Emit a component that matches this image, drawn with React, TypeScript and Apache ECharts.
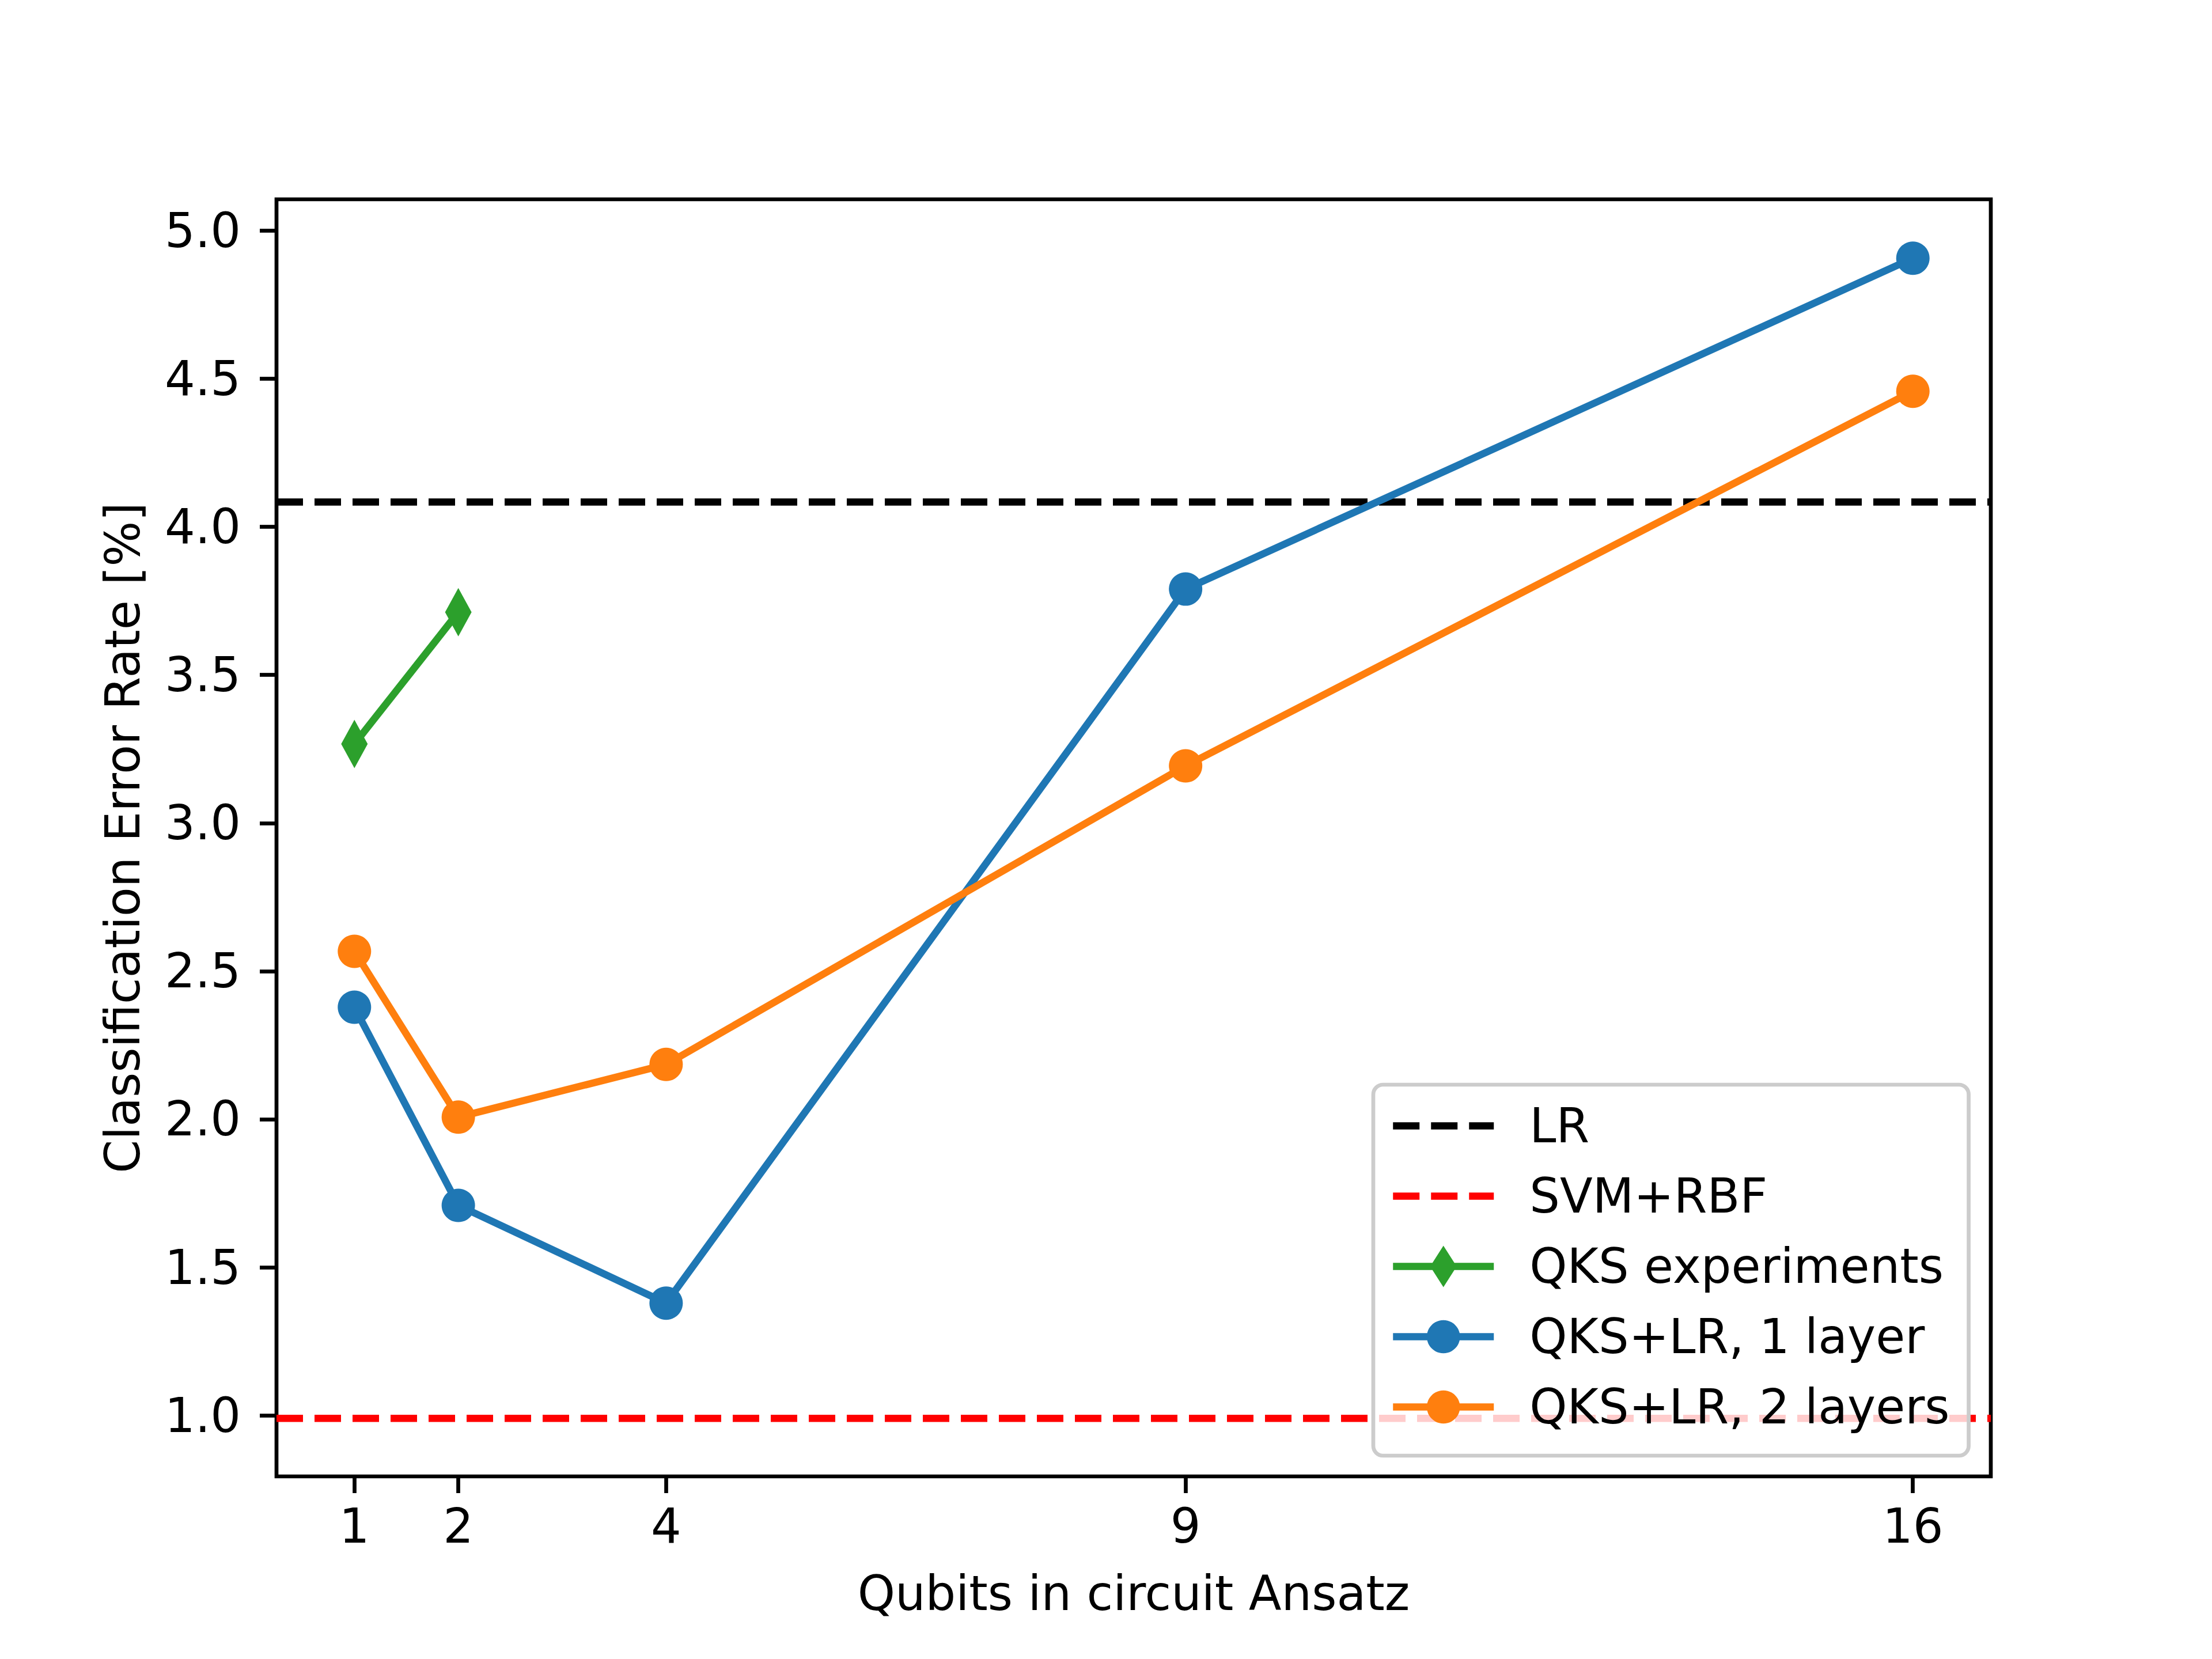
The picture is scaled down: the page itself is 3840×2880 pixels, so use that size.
import React, { useEffect, useRef } from "react";
import * as echarts from "echarts";

const qubits = [1, 2, 4, 9, 16];
const qubitsExp = [1, 2];
const errOneLayer = [2.378, 1.709, 1.379, 3.79, 4.907];
const errTwoLayers = [2.567, 2.007, 2.185, 3.193, 4.458];
const errExperiments = [3.267, 3.712];
const lrError = 4.084;
const svmError = 0.99;
const xTicks = [1, 2, 4, 9, 16];
const yTicks = [1.0, 1.5, 2.0, 2.5, 3.0, 3.5, 4.0, 4.5, 5.0];
const xMin = 0.25;
const xMax = 16.75;
const yMin = 0.794;
const yMax = 5.106;

const FONT = "DejaVu Sans";
const FS = 83;
const LW = 12.5;

const DIAMOND_ICON =
  "path://M0,29.75L175,29.75L175,42.25L0,42.25Z M64.5,36L87.5,0L110.5,36L87.5,72Z";

export default function App() {
  const ref = useRef<HTMLDivElement>(null);
  useEffect(() => {
    document.body.style.margin = "0";
    const chart = echarts.init(ref.current!, null, { renderer: "svg" });
    const pairs = (xs: number[], ys: number[]) => xs.map((x, i) => [x, ys[i]]);
    const option: any = {
      animation: false,
      backgroundColor: "#ffffff",
      textStyle: { fontFamily: FONT },
      grid: {
        left: 480,
        right: 384,
        top: 346,
        bottom: 317,
        show: true,
        borderColor: "#000000",
        borderWidth: 6.7,
        backgroundColor: "transparent",
      },
      xAxis: {
        type: "value",
        min: xMin,
        max: xMax,
        name: "Qubits in circuit Ansatz",
        nameLocation: "middle",
        nameGap: 162,
        nameTextStyle: { fontSize: FS, fontFamily: FONT, color: "#000" },
        axisLine: { show: false },
        splitLine: { show: false },
        axisTick: {
          show: true,
          length: 29,
          lineStyle: { color: "#000", width: 6.7 },
          customValues: xTicks,
        },
        axisLabel: {
          show: true,
          margin: 45,
          fontSize: FS,
          fontFamily: FONT,
          color: "#000",
          customValues: xTicks,
          formatter: (v: number) => String(v),
        },
      },
      yAxis: {
        type: "value",
        min: yMin,
        max: yMax,
        name: "Classification Error Rate [%]",
        nameLocation: "middle",
        nameGap: 225,
        nameRotate: 90,
        nameTextStyle: { fontSize: FS, fontFamily: FONT, color: "#000" },
        axisLine: { show: false },
        splitLine: { show: false },
        axisTick: {
          show: true,
          length: 29,
          lineStyle: { color: "#000", width: 6.7 },
          customValues: yTicks,
        },
        axisLabel: {
          show: true,
          margin: 62,
          fontSize: FS,
          fontFamily: FONT,
          color: "#000",
          customValues: yTicks,
          formatter: (v: number) => v.toFixed(1),
        },
      },
      legend: {
        orient: "vertical",
        left: 2384,
        top: 1883,
        padding: [30, 33, 43, 28],
        itemWidth: 175,
        itemHeight: 72,
        itemGap: 39,
        backgroundColor: "rgba(255,255,255,0.8)",
        borderColor: "#cccccc",
        borderWidth: 6.7,
        borderRadius: 17,
        lineStyle: { width: LW },
        textStyle: {
          fontSize: FS,
          fontFamily: FONT,
          color: "#000",
          padding: [0, 0, 0, 57],
          lineHeight: 72,
        },
        data: [
          { name: "LR", itemStyle: { opacity: 0 } },
          { name: "SVM+RBF", itemStyle: { opacity: 0 } },
          { name: "QKS experiments", icon: DIAMOND_ICON },
          { name: "QKS+LR, 1 layer" },
          { name: "QKS+LR, 2 layers" },
        ],
      },
      series: [
        {
          name: "LR",
          type: "line",
          data: [
            [xMin, lrError],
            [xMax, lrError],
          ],
          symbol: "none",
          lineStyle: { color: "#000000", width: LW, type: [46, 20] },
          itemStyle: { color: "#000000" },
          z: 2,
        },
        {
          name: "SVM+RBF",
          type: "line",
          data: [
            [xMin, svmError],
            [xMax, svmError],
          ],
          symbol: "none",
          lineStyle: { color: "#ff0000", width: LW, type: [46, 20] },
          itemStyle: { color: "#ff0000" },
          z: 2,
        },
        {
          name: "QKS experiments",
          type: "line",
          data: pairs(qubitsExp, errExperiments),
          symbol: "diamond",
          symbolSize: [46, 84],
          lineStyle: { color: "#2ca02c", width: LW },
          itemStyle: { color: "#2ca02c" },
          z: 3,
        },
        {
          name: "QKS+LR, 1 layer",
          type: "line",
          data: pairs(qubits, errOneLayer),
          symbol: "circle",
          symbolSize: 58,
          lineStyle: { color: "#1f77b4", width: LW },
          itemStyle: { color: "#1f77b4" },
          z: 3,
        },
        {
          name: "QKS+LR, 2 layers",
          type: "line",
          data: pairs(qubits, errTwoLayers),
          symbol: "circle",
          symbolSize: 58,
          lineStyle: { color: "#ff7f0e", width: LW },
          itemStyle: { color: "#ff7f0e" },
          z: 3,
        },
      ],
    };
    chart.setOption(option);
    return () => chart.dispose();
  }, []);
  return <div ref={ref} style={{ width: 3840, height: 2880 }} />;
}
